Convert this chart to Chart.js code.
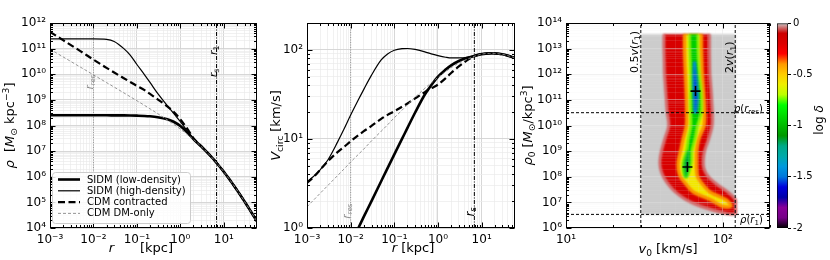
<!DOCTYPE html>
<html>
<head>
<meta charset="utf-8">
<script src="https://cdn.jsdelivr.net/npm/chart.js@4.4.1/dist/chart.umd.min.js"></script>
<style>
  html, body { margin:0; padding:0; background:#fff; }
  #wrap { position:relative; width:830px; height:260px; overflow:hidden; background:#fff; }
  .pane { position:absolute; top:0; }
</style>
</head>
<body>
<div id="wrap">
  <canvas id="c1" class="pane" width="265" height="260" style="left:0px"></canvas>
  <canvas id="c2" class="pane" width="255" height="260" style="left:265px"></canvas>
  <canvas id="c3" class="pane" width="255" height="260" style="left:520px"></canvas>
  <canvas id="c4" class="pane" width="60" height="260" style="left:770px"></canvas>
</div>
<script>
// ===================== DATA =====================
const seriesNames = ['SIDM (low-density)', 'SIDM (high-density)', 'CDM contracted', 'CDM DM-only'];

// Panel 1: density profiles  (r in kpc, rho in Msun/kpc^3)
const rDens       = [0.001,0.002,0.005,0.01,0.02,0.03,0.05,0.07,0.1,0.15,0.2,0.3,0.5,0.7,1,1.5,2,3,5,7,10,20,30,58];
const rhoSidmLow  = [2.5e8,2.5e8,2.5e8,2.5e8,2.5e8,2.49e8,2.48e8,2.46e8,2.42e8,2.36e8,2.28e8,2.1e8,1.75e8,1.4e8,9.5e7,5.0e7,2.95e7,1.55e7,6.33e6,3.3e6,1.56e6,3.07e5,1.08e5,1.81e4];
const rhoSidmHigh = [2.4e11,2.4e11,2.4e11,2.4e11,2.3e11,1.9e11,1.0e11,5.6e10,2.4e10,9.5e9,4.8e9,1.78e9,6.0e8,2.95e8,1.41e8,5.6e7,2.95e7,1.55e7,6.33e6,3.3e6,1.56e6,3.07e5,1.08e5,1.81e4];
const rhoCdmContr = [4.5e11,2.15e11,8.0e10,3.7e10,1.78e10,1.17e10,7.0e9,5.0e9,3.5e9,2.4e9,1.7e9,1.05e9,5.6e8,3.4e8,1.75e8,6.8e7,3.2e7,1.57e7,6.33e6,3.3e6,1.56e6,3.07e5,1.08e5,1.81e4];
const rhoCdmDMO   = [9.5e10,4.76e10,1.9e10,9.5e9,4.73e9,3.15e9,1.88e9,1.33e9,9.25e8,6.08e8,4.49e8,2.91e8,1.65e8,1.12e8,7.24e7,4.26e7,2.84e7,1.53e7,6.33e6,3.3e6,1.56e6,3.07e5,1.08e5,1.81e4];

// Panel 2: circular velocity (km/s)
const rV        = [0.001,0.0015,0.002,0.003,0.005,0.007,0.01,0.015,0.02,0.03,0.05,0.07,0.1,0.15,0.2,0.3,0.5,0.7,1,1.5,2,3,5,7,10,15,20,30,40,58];
const vSidmLow  = [0.067,0.1,0.134,0.2,0.335,0.47,0.67,1.0,1.34,2.0,3.35,4.7,6.7,10,13.3,19.8,31.5,40,50,60,67,75,82,86,89.5,91.2,91,89,86,81];
const vSidmHigh = [3.3,3.9,4.5,5.8,9.2,12.8,18.5,27.5,36,52,77,90,99,103,103.5,101,95,90,86,82.5,81,81,83,86,89.5,91.2,91,89,86,81];
const vCdmContr = [3.2,3.85,4.5,5.6,7.1,8.1,9.4,11.0,12.2,14.0,16.8,18.6,20.4,23,25,28.5,33.5,37,40.7,48,55,65,78,85,89.5,91.2,91,89,86,81];
const vCdmDMO   = [1.73,2.12,2.45,3.0,3.87,4.58,5.5,6.7,7.7,9.5,12.2,14.4,17.3,21,24.2,29.3,37,42.5,49,57,63,71,79.5,85,89.5,91.2,91,89,86,81];

const rRes = 0.01;   // kpc
const rS   = 6.8;    // kpc

// Panel 3: log(delta) map in (v0, rho0) plane, read as contour boundaries (v0 in km/s)
const v0Lines    = [30, 120];          // 0.5 v(r1), 2 v(r1)
const rho0Lines  = [3.16e10, 3.4e6];   // rho(r_res), rho(r1)
const grayBoxV   = [30, 120.5];
const grayBoxLogRho = [6.53, 13.56];
const bestV0     = [67, 59.5];
const bestRho0   = [2.2e11, 2.4e8];
const bandLogRho = [13.56,13.0,12.5,12.0,11.5,11.0,10.5,10.0,9.5,9.0,8.6,8.3,8.0,7.7,7.4,7.1,6.85,6.57];
const redLeft    = [42.1,42.1,42.3,42.5,43.0,43.6,44.2,45.2,42.8,40.6,39.7,40.1,41.8,45.0,50.0,58.5,72.0,105];
const redRight   = [82.2,82.2,82.4,82.8,84.0,85.0,85.8,85.5,81.5,76.5,75.0,76.0,81.0,92.0,108,120.5,120.5,120.5];
const yellowLeft = [57.0,57.0,57.3,57.8,58.2,58.6,58.8,58.6,56.0,53.8,52.0,52.0,53.7,58.5,65.0,84.0,99.0,null];
const yellowRight= [73.0,73.0,73.5,74.0,75.0,76.0,76.6,76.0,70.5,68.0,67.9,68.0,69.0,74.5,83.0,105,113,null];
const greenLeft  = [61.4,61.6,62.0,62.4,62.4,62.2,62.4,62.6,60.3,58.6,56.0,55.8,57.2,null,null,null,null,null];
const greenRight = [69.3,69.5,70.0,71.0,72.5,73.4,73.0,69.0,66.6,63.5,63.2,61.8,59.2,null,null,null,null,null];
const blueLeft   = [null,null,65.6,64.8,64.8,65.3,66.2,null,null,null,null,null,null,null,null,null,null,null];
const blueRight  = [null,null,66.4,67.8,69.0,69.2,67.6,null,null,null,null,null,null,null,null,null,null,null];
const coreLeft   = [null,null,null,null,null,null,null,null,null,59.8,57.0,56.6,57.8,null,null,null,null,null];
const coreRight  = [null,null,null,null,null,null,null,null,null,60.8,60.8,60.2,58.6,null,null,null,null,null];

// Colour bar
const cbTicks = [-2, -1.5, -1, -0.5, 0];

// ===================== STYLE =====================
const FONT = "'DejaVu Sans', sans-serif";
Chart.defaults.font.family = FONT;
Chart.defaults.font.size = 12;
Chart.defaults.color = '#000';

const cmapStops = [ // nipy_spectral
  [0.00,'rgb(0,0,0)'],[0.05,'rgb(119,0,136)'],[0.10,'rgb(136,0,153)'],[0.15,'rgb(0,0,170)'],
  [0.20,'rgb(0,0,221)'],[0.25,'rgb(0,119,221)'],[0.30,'rgb(0,153,221)'],[0.35,'rgb(0,170,170)'],
  [0.40,'rgb(0,170,136)'],[0.45,'rgb(0,153,0)'],[0.50,'rgb(0,187,0)'],[0.55,'rgb(0,221,0)'],
  [0.60,'rgb(0,255,0)'],[0.65,'rgb(187,255,0)'],[0.70,'rgb(238,238,0)'],[0.75,'rgb(255,204,0)'],
  [0.80,'rgb(255,153,0)'],[0.85,'rgb(255,0,0)'],[0.90,'rgb(221,0,0)'],[0.95,'rgb(204,0,0)'],
  [1.00,'rgb(204,204,204)']
];

const styles = [
  {color:'#000', width:2.6, dash:[]},
  {color:'#000', width:1.2, dash:[]},
  {color:'#000', width:2.2, dash:[7,3.5]},
  {color:'#8a8a8a', width:0.9, dash:[3,2]}
];

// ===================== HELPERS =====================
function isPow10(v){ const l = Math.log10(v); return Math.abs(l - Math.round(l)) < 1e-6; }
function logTicks(min, max){
  const out = [];
  const e0 = Math.floor(Math.log10(min) + 1e-9), e1 = Math.ceil(Math.log10(max) - 1e-9);
  for (let e = e0; e <= e1; e++) for (let m = 1; m <= 9; m++) {
    const v = parseFloat((m * Math.pow(10, e)).toPrecision(6));
    if (v >= min * (1 - 1e-9) && v <= max * (1 + 1e-9)) out.push({value: v});
  }
  return out;
}
const SUP = {'-':'\u207B','0':'\u2070','1':'\u00B9','2':'\u00B2','3':'\u00B3','4':'\u2074','5':'\u2075','6':'\u2076','7':'\u2077','8':'\u2078','9':'\u2079'};
function supLabel(v){ return '10' + String(Math.round(Math.log10(v))).split('').map(c => SUP[c]).join(''); }

function drawRich(ctx, segs, x, y, o = {}) {
  const size = o.size || 12;
  ctx.save();
  ctx.translate(x, y);
  if (o.rot) ctx.rotate(o.rot);
  ctx.fillStyle = o.color || '#000';
  ctx.textBaseline = 'alphabetic';
  ctx.textAlign = 'left';
  const fonts = segs.map(([t, st = '']) => {
    const small = st.includes('b') || st.includes('p');
    const sz = small ? size * 0.7 : size;
    return (st.includes('i') ? 'italic ' : '') + (o.bold ? 'bold ' : '') + sz + 'px ' + FONT;
  });
  const widths = segs.map(([t], i) => { ctx.font = fonts[i]; return ctx.measureText(t).width; });
  const w = widths.reduce((a, b) => a + b, 0);
  let cx = o.align === 'left' ? 0 : o.align === 'right' ? -w : -w / 2;
  const base = size * 0.36;
  segs.forEach(([t, st = ''], i) => {
    ctx.font = fonts[i];
    let dy = base;
    if (st.includes('b')) dy += size * 0.22;
    if (st.includes('p')) dy -= size * 0.38;
    ctx.fillText(t, cx, dy);
    cx += widths[i];
  });
  ctx.restore();
}

function logAxis(min, max, o) {
  return {
    type: 'logarithmic', min, max, position: o.pos,
    afterBuildTicks: s => { s.ticks = logTicks(min, max); },
    afterFit: s => { if (o.pos === 'left') s.width = o.size; else s.height = o.size; },
    ticks: { autoSkip: false, maxRotation: 0, minRotation: 0, padding: o.pad, color: '#000',
      font: { size: 12, family: FONT }, callback: v => isPow10(v) ? supLabel(v) : '' },
    grid: { drawTicks: false,
      color: c => (c.tick && isPow10(c.tick.value)) ? o.major : o.minor,
      lineWidth: c => (c.tick && isPow10(c.tick.value)) ? 0.9 : 0.7 },
    border: { display: false }
  };
}

const frameTicks = {
  id: 'frameTicks',
  afterDatasetsDraw(chart) {
    const {ctx, chartArea: a} = chart;
    const xs = chart.scales.x, ys = chart.scales.y;
    const L = Math.round(a.left) + 0.5, R = Math.round(a.right) - 0.5;
    const T = Math.round(a.top) + 0.5, B = Math.round(a.bottom) - 0.5;
    ctx.save();
    ctx.strokeStyle = '#000'; ctx.lineWidth = 1; ctx.setLineDash([]);
    ctx.beginPath();
    for (const t of xs.ticks) {
      const p = Math.round(xs.getPixelForValue(t.value)) + 0.5;
      if (p < a.left - 0.5 || p > a.right + 0.5) continue;
      const len = isPow10(t.value) ? 5 : 2.5;
      ctx.moveTo(p, B); ctx.lineTo(p, B - len);
      ctx.moveTo(p, T); ctx.lineTo(p, T + len);
    }
    for (const t of ys.ticks) {
      const p = Math.round(ys.getPixelForValue(t.value)) + 0.5;
      if (p < a.top - 0.5 || p > a.bottom + 0.5) continue;
      const len = isPow10(t.value) ? 5 : 2.5;
      ctx.moveTo(L, p); ctx.lineTo(L + len, p);
      ctx.moveTo(R, p); ctx.lineTo(R - len, p);
    }
    ctx.stroke();
    ctx.strokeRect(L, T, R - L, B - T);
    ctx.restore();
  }
};

function makeNotes(items) {
  return { id: 'notes', afterDatasetsDraw(chart) {
    const {ctx} = chart; const x = chart.scales.x, y = chart.scales.y;
    items.forEach(n => drawRich(ctx, n.segs, x.getPixelForValue(n.x) + (n.dx || 0), y.getPixelForValue(n.y) + (n.dy || 0), n));
  }};
}
function makeTitles(list) {
  return { id: 'axTitles', afterDraw(chart) { list.forEach(t => drawRich(chart.ctx, t.segs, t.x, t.y, t)); } };
}
function makeLegend(items) {
  return { id: 'boxLegend', afterDraw(chart) {
    const {ctx, chartArea: a} = chart;
    const x0 = Math.round(a.left) + 2, y0 = Math.round(a.bottom) - 56, w = 138, h = 51;
    ctx.save();
    ctx.fillStyle = 'rgba(255,255,255,0.85)'; ctx.strokeStyle = '#cccccc'; ctx.lineWidth = 1;
    ctx.beginPath(); ctx.roundRect(x0 + 0.5, y0 + 0.5, w, h, 3); ctx.fill(); ctx.stroke();
    items.forEach((it, i) => {
      const y = y0 + 7.5 + i * 11.3;
      ctx.beginPath(); ctx.setLineDash(it.dash); ctx.strokeStyle = it.color; ctx.lineWidth = it.width;
      ctx.moveTo(x0 + 6, y); ctx.lineTo(x0 + 28, y); ctx.stroke();
      ctx.setLineDash([]); ctx.fillStyle = '#000'; ctx.font = '10px ' + FONT; ctx.textBaseline = 'middle';
      ctx.fillText(it.label, x0 + 35, y + 0.5);
    });
    ctx.restore();
  }};
}

const lineDS = (xs, ys, st, order) => ({
  data: xs.map((x, i) => ({x, y: ys[i]})), borderColor: st.color, borderWidth: st.width,
  borderDash: st.dash, pointRadius: 0, fill: false, cubicInterpolationMode: 'monotone', order
});
const refLine = (pts, color, width, dash, order) => ({
  data: pts, borderColor: color, borderWidth: width, borderDash: dash, pointRadius: 0, fill: false, tension: 0, order
});
const baseOpts = (pad) => ({
  responsive: false, animation: false, events: [],
  layout: { padding: pad, autoPadding: false },
  plugins: { legend: { display: false }, tooltip: { enabled: false } }
});
const ROT = -Math.PI / 2;

// ===================== PANEL 1 =====================
{
  const xMin = 0.001, xMax = 58, yMin = 1e4, yMax = 1e12;
  const opts = baseOpts({left: 5, right: 8, top: 23, bottom: 0});
  opts.scales = {
    x: logAxis(xMin, xMax, {pos: 'bottom', size: 32, pad: 5, major: '#d2d2d2', minor: '#ebebeb'}),
    y: logAxis(yMin, yMax, {pos: 'left', size: 45, pad: 4, major: '#d2d2d2', minor: '#ebebeb'})
  };
  new Chart(document.getElementById('c1'), {
    type: 'line',
    data: { datasets: [
      lineDS(rDens, rhoSidmLow,  styles[0], 4),
      lineDS(rDens, rhoSidmHigh, styles[1], 3),
      lineDS(rDens, rhoCdmContr, styles[2], 2),
      lineDS(rDens, rhoCdmDMO,   styles[3], 1),
      refLine([{x: rRes, y: yMin}, {x: rRes, y: yMax}], '#9a9a9a', 1, [1, 1.5], 10),
      refLine([{x: rS, y: yMin}, {x: rS, y: yMax}], '#000', 1, [4, 1.5, 1, 1.5], 10)
    ]},
    options: opts,
    plugins: [frameTicks,
      makeNotes([
        {x: rRes, y: 10**9.41, segs: [['r','i'],['res','b']], rot: ROT, align: 'left', dx: -4, color: '#888', size: 10},
        {x: rS, y: 10**9.88, segs: [['r','i'],['s','b']], rot: ROT, align: 'left', dx: -4, size: 11},
        {x: rS, y: 10**10.75, segs: [['r','i'],['1','b']], rot: ROT, align: 'left', dx: -4, size: 11}
      ]),
      makeLegend(seriesNames.map((n, i) => ({label: n, ...styles[i]}))),
      makeTitles([
        {segs: [['\u03C1','i'],['  [',''],['M','i'],['\u2299','b'],[' kpc',''],['\u22123','p'],[']','']], x: 9, y: 125.5, rot: ROT, size: 13},
        {segs: [['r','i']], x: 111.5, y: 247.5, size: 13},
        {segs: [['[kpc]','']], x: 140, y: 247.5, size: 13, align: 'left'}
      ])
    ]
  });
}

// ===================== PANEL 2 =====================
{
  const xMin = 0.001, xMax = 58, yMin = 1, yMax = 200;
  const opts = baseOpts({left: 4, right: 5, top: 23, bottom: 0});
  opts.scales = {
    x: logAxis(xMin, xMax, {pos: 'bottom', size: 32, pad: 5, major: '#d2d2d2', minor: '#ebebeb'}),
    y: logAxis(yMin, yMax, {pos: 'left', size: 38, pad: 4, major: '#d2d2d2', minor: '#ebebeb'})
  };
  new Chart(document.getElementById('c2'), {
    type: 'line',
    data: { datasets: [
      lineDS(rV, vSidmLow,  styles[0], 4),
      lineDS(rV, vSidmHigh, styles[1], 3),
      lineDS(rV, vCdmContr, styles[2], 2),
      lineDS(rV, vCdmDMO,   styles[3], 1),
      refLine([{x: rRes, y: yMin}, {x: rRes, y: yMax}], '#9a9a9a', 1, [1, 1.5], 10),
      refLine([{x: rS, y: yMin}, {x: rS, y: yMax}], '#000', 1, [4, 1.5, 1, 1.5], 10)
    ]},
    options: opts,
    plugins: [frameTicks,
      makeNotes([
        {x: rRes, y: 1.28, segs: [['r','i'],['res','b']], rot: ROT, align: 'left', dx: -4, color: '#888', size: 10},
        {x: rS, y: 1.35, segs: [['r','i'],['s','b']], rot: ROT, align: 'left', dx: -5, size: 12}
      ]),
      makeTitles([
        {segs: [['V','i'],['circ','b'],[' [km/s]','']], x: 10, y: 125.5, rot: ROT, size: 13},
        {segs: [['r','i'],[' [kpc]','']], x: 148, y: 247.5, size: 13}
      ])
    ]
  });
}

// ===================== PANEL 3 =====================
{
  const xMin = 10, xMax = 200, yMin = 1e6, yMax = 1e14;
  function bandPolygon(left, right) {
    const idx = [];
    bandLogRho.forEach((lr, i) => { if (left[i] != null && right[i] != null) idx.push(i); });
    const pts = idx.map(i => ({x: left[i], y: 10 ** bandLogRho[i]}));
    idx.slice().reverse().forEach(i => pts.push({x: right[i], y: 10 ** bandLogRho[i]}));
    return pts;
  }
  const cell = (pts, fillC, edgeC, edgeW, tension) => ({
    data: pts, backgroundColor: fillC, borderColor: edgeC, borderWidth: edgeW, pointRadius: 0,
    fill: 'shape', tension, cell: true
  });
  const grayPts = [
    {x: grayBoxV[0], y: 10 ** grayBoxLogRho[1]}, {x: grayBoxV[0], y: 10 ** grayBoxLogRho[0]},
    {x: grayBoxV[1], y: 10 ** grayBoxLogRho[0]}, {x: grayBoxV[1], y: 10 ** grayBoxLogRho[1]}
  ];
  const BLUR = 'blur(1.3px)';
  const blurPlugin = {
    id: 'cellBlur',
    beforeRender(chart) { chart.ctx.filter = BLUR; },
    beforeDraw(chart) { chart.ctx.filter = 'none'; },
    beforeDatasetDraw(chart, args) { if (chart.data.datasets[args.index].cell) chart.ctx.filter = BLUR; },
    afterDatasetDraw(chart) { chart.ctx.filter = 'none'; }
  };
  const opts = baseOpts({left: 14, right: 3, top: 23, bottom: 0});
  opts.plugins.filler = { drawTime: 'beforeDraw' };
  opts.scales = {
    x: logAxis(xMin, xMax, {pos: 'bottom', size: 32, pad: 5, major: 'rgba(224,224,224,0.5)', minor: 'rgba(232,232,232,0.16)'}),
    y: logAxis(yMin, yMax, {pos: 'left', size: 32, pad: 4, major: 'rgba(224,224,224,0.5)', minor: 'rgba(232,232,232,0.16)'})
  };
  new Chart(document.getElementById('c3'), {
    type: 'line',
    data: { datasets: [
      { data: bestV0.map((v, i) => ({x: v, y: bestRho0[i]})), showLine: false, pointStyle: 'cross',
        pointRadius: 5, pointBorderWidth: 1.6, pointBorderColor: '#000', borderColor: '#000' },
      refLine([{x: v0Lines[0], y: yMin}, {x: v0Lines[0], y: yMax}], '#000', 1, [3, 2], 0),
      refLine([{x: v0Lines[1], y: yMin}, {x: v0Lines[1], y: yMax}], '#000', 1, [3, 2], 0),
      refLine([{x: xMin, y: rho0Lines[0]}, {x: xMax, y: rho0Lines[0]}], '#000', 1, [3, 2], 0),
      refLine([{x: xMin, y: rho0Lines[1]}, {x: xMax, y: rho0Lines[1]}], '#000', 1, [3, 2], 0),
      cell(bandPolygon(blueLeft, blueRight), 'rgb(0,50,225)', 'rgb(0,150,210)', 1.5, 0.35),
      cell(bandPolygon(coreLeft, coreRight), 'rgb(0,150,70)', 'rgb(0,200,40)', 1.2, 0.35),
      cell(bandPolygon(greenLeft, greenRight), 'rgb(0,205,0)', 'rgb(140,245,0)', 2, 0.3),
      cell(bandPolygon(yellowLeft, yellowRight), 'rgb(242,232,0)', 'rgb(255,150,0)', 3, 0.3),
      cell(bandPolygon(redLeft, redRight), 'rgb(216,0,0)', 'rgb(212,110,110)', 2.5, 0.3),
      cell(grayPts, 'rgb(204,204,204)', 'rgba(0,0,0,0)', 0, 0)
    ]},
    options: opts,
    plugins: [blurPlugin, frameTicks,
      makeNotes([
        {x: v0Lines[0], y: 10**12.05, segs: [['0.5',''],['v','i'],['(',''],['r','i'],['1','b'],[')','']], rot: ROT, align: 'left', dx: -7, size: 11},
        {x: v0Lines[1], y: 10**12.05, segs: [['2',''],['v','i'],['(',''],['r','i'],['1','b'],[')','']], rot: ROT, align: 'left', dx: -6, size: 11},
        {x: 180, y: 10**10.68, segs: [['\u03C1','i'],['(',''],['r','i'],['res','b'],[')','']], align: 'right', size: 10},
        {x: 180, y: 10**6.34, segs: [['\u03C1','i'],['(',''],['r','i'],['1','b'],[')','']], align: 'right', size: 10}
      ]),
      makeTitles([
        {segs: [['\u03C1','i'],['0','b'],[' [',''],['M','i'],['\u2299','b'],['/kpc',''],['3','p'],[']','']], x: 7, y: 125.5, rot: ROT, size: 13},
        {segs: [['v','i'],['0','b'],[' [km/s]','']], x: 148, y: 248, size: 13}
      ])
    ]
  });
}

// ===================== COLOUR BAR =====================
{
  const cbGradient = (c) => {
    const a = c.chart.chartArea; if (!a) return '#888';
    const g = c.chart.ctx.createLinearGradient(0, a.bottom, 0, a.top);
    cmapStops.forEach(([f, col]) => g.addColorStop(f, col));
    return g;
  };
  const opts = baseOpts({left: 7, right: 12, top: 23, bottom: 32});
  opts.scales = {
    x: { display: false },
    y: { position: 'right', min: cbTicks[0], max: cbTicks[cbTicks.length - 1],
      afterBuildTicks: s => { s.ticks = cbTicks.map(v => ({value: v})); },
      afterFit: s => { s.width = 30; },
      ticks: { font: {size: 10, family: FONT}, padding: 2, color: '#000', callback: v => String(v) },
      grid: { drawOnChartArea: false, drawTicks: true, tickLength: 3, color: '#000', lineWidth: 1 },
      border: { display: false } }
  };
  new Chart(document.getElementById('c4'), {
    type: 'bar',
    data: { labels: [''], datasets: [{ data: [[cbTicks[0], cbTicks[cbTicks.length - 1]]],
      backgroundColor: cbGradient, borderColor: '#000', borderWidth: 1, borderSkipped: false,
      barPercentage: 1, categoryPercentage: 1 }] },
    options: opts,
    plugins: [makeTitles([{segs: [['log ',''],['\u03B4','i']], x: 49, y: 120, rot: ROT, size: 12}])]
  });
}
</script>
</body>
</html>
